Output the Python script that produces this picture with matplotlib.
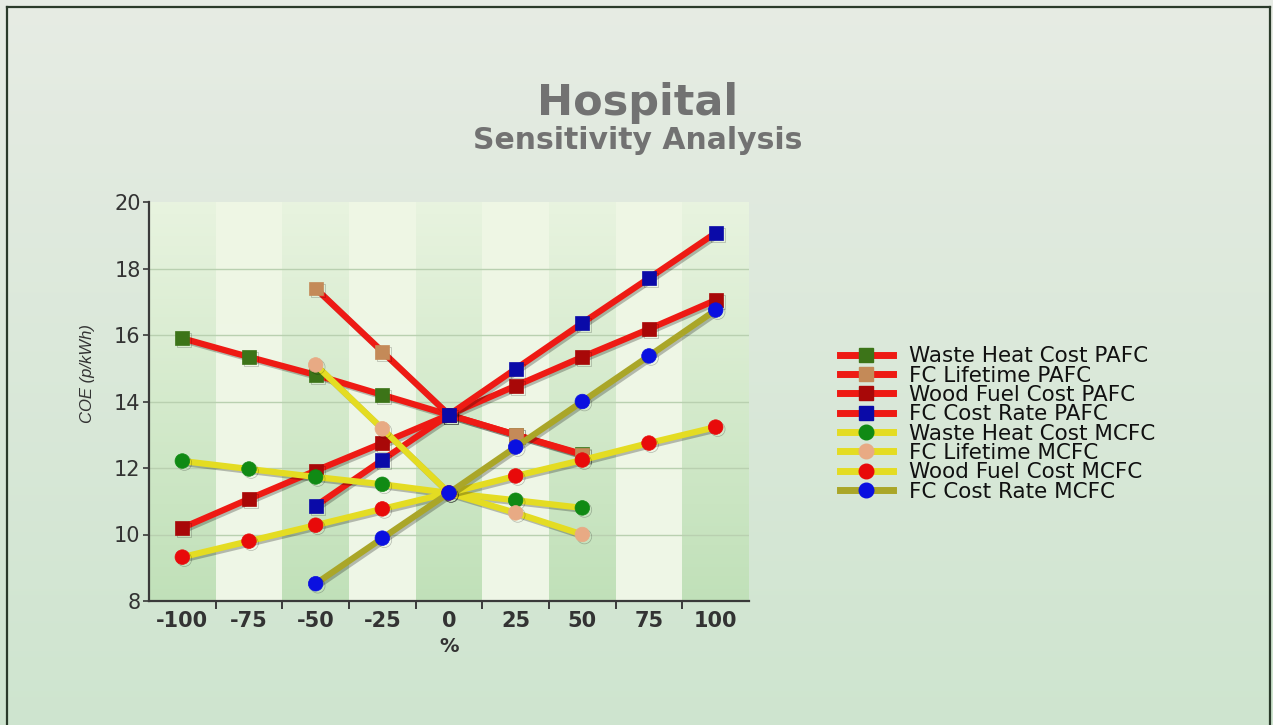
import numpy as np
import matplotlib
matplotlib.use("Agg")
import matplotlib.pyplot as plt
from matplotlib.lines import Line2D
import matplotlib.patheffects as pe

# ---------------- data ----------------
categories = [-100, -75, -50, -25, 0, 25, 50, 75, 100]
nan = np.nan

waste_heat_pafc = [15.9, 15.34, 14.8, 14.2, 13.6, 13.0, 12.42, nan, nan]
fc_lifetime_pafc = [nan, nan, 17.4, 15.5, 13.6, 13.0, 12.4, nan, nan]
wood_fuel_pafc = [10.2, 11.07, 11.92, 12.75, 13.6, 14.47, 15.34, 16.18, 17.05]
fc_cost_rate_pafc = [nan, nan, 10.86, 12.24, 13.6, 14.98, 16.36, 17.71, 19.07]

waste_heat_mcfc = [12.21, 11.97, 11.73, 11.51, 11.25, 11.03, 10.8, nan, nan]
fc_lifetime_mcfc = [nan, nan, 15.1, 13.18, 11.25, 10.65, 10.0, nan, nan]
wood_fuel_mcfc = [9.32, 9.8, 10.28, 10.77, 11.25, 11.76, 12.24, 12.75, 13.23]
fc_cost_rate_mcfc = [nan, nan, 8.52, 9.89, 11.25, 12.63, 14.0, 15.37, 16.75]

series_names = ["Waste Heat Cost PAFC", "FC Lifetime PAFC", "Wood Fuel Cost PAFC",
                "FC Cost Rate PAFC", "Waste Heat Cost MCFC", "FC Lifetime MCFC",
                "Wood Fuel Cost MCFC", "FC Cost Rate MCFC"]
series_values = [waste_heat_pafc, fc_lifetime_pafc, wood_fuel_pafc, fc_cost_rate_pafc,
                 waste_heat_mcfc, fc_lifetime_mcfc, wood_fuel_mcfc, fc_cost_rate_mcfc]
line_colors = ["#ee1a14", "#ee1a14", "#ee1a14", "#ee1a14",
               "#e4dc22", "#e4dc22", "#e4dc22", "#aaa628"]
marker_colors = ["#3c7418", "#c48a58", "#a80808", "#0a0aa8",
                 "#108a14", "#e8aa84", "#e80a0a", "#0a10e0"]
marker_shapes = ["s", "s", "s", "s", "o", "o", "o", "o"]

yticks = [8, 10, 12, 14, 16, 18, 20]
title = "Hospital"
subtitle = "Sensitivity Analysis"
ylabel = "COE (p/kWh)"
xlabel = "%"

# ---------------- figure ----------------
W, H = 1273, 725
fig = plt.figure(figsize=(W / 100, H / 100), dpi=100)

# background gradient
bg = fig.add_axes([0, 0, 1, 1], zorder=-10)
grad = np.linspace(0, 1, 256)[:, None]
c_top = np.array([0.905, 0.925, 0.895])
c_bot = np.array([0.81, 0.897, 0.812])
img = c_top[None, None, :] * (1 - grad[:, :, None]) + c_bot[None, None, :] * grad[:, :, None]
bg.imshow(img, aspect="auto", extent=(0, 1, 0, 1), origin="upper")
bg.set_xlim(0, 1)
bg.set_ylim(0, 1)
bg.axis("off")

# border lines
for xs, ys in [((7 / W, 1270 / W), (1 - 7 / H, 1 - 7 / H)),
               ((7 / W, 7 / W), (0, 1 - 7 / H)),
               ((1270 / W, 1270 / W), (0, 1 - 7 / H))]:
    fig.add_artist(Line2D(xs, ys, color="#2a3a2a", lw=1.6, transform=fig.transFigure))

ax = fig.add_axes([149 / W, 1 - 601 / H, 600 / W, 399 / H])
ax.set_facecolor("none")

xmin, xmax = -112.5, 112.5
ymin, ymax = 8, 20

# column shading
vgrad = np.linspace(0, 1, 128)[:, None]
dark_top = np.array([0.91, 0.955, 0.875])
dark_bot = np.array([0.755, 0.88, 0.725])
light_top = np.array([0.935, 0.965, 0.895])
light_bot = np.array([0.935, 0.968, 0.905])
for i, c in enumerate(categories):
    if i % 2 == 0:
        t, b = dark_top, dark_bot
    else:
        t, b = light_top, light_bot
    col = t[None, None, :] * (1 - vgrad[:, :, None]) + b[None, None, :] * vgrad[:, :, None]
    ax.imshow(col, aspect="auto", extent=(c - 12.5, c + 12.5, ymin, ymax),
              origin="upper", zorder=0)

# grid
for y in yticks[1:-1]:
    ax.axhline(y, color="#b9d0b0", lw=1.0, zorder=1)

x = np.array(categories, dtype=float)
handles = []
for name, vals, lc, mc, ms in zip(series_names, series_values, line_colors,
                                  marker_colors, marker_shapes):
    v = np.array(vals, dtype=float)
    m = ~np.isnan(v)
    size = 10 if ms == "s" else 10.5
    ax.plot(x[m], v[m], color=lc, lw=4.5, marker=ms, markersize=size,
            markerfacecolor=mc, markeredgecolor=mc, markeredgewidth=0.5,
            zorder=3, solid_capstyle="butt",
            path_effects=[pe.SimpleLineShadow(offset=(1.5, -1.5), alpha=0.25),
                          pe.Normal()])
    handles.append(Line2D([0], [0], color=lc, lw=5, marker=ms, markersize=size,
                          markerfacecolor=mc, markeredgecolor=mc, label=name))

ax.set_xlim(xmin, xmax)
ax.set_ylim(ymin, ymax)

# spines
for s in ["top", "right"]:
    ax.spines[s].set_visible(False)
for s in ["left", "bottom"]:
    ax.spines[s].set_color("#3a3a3a")
    ax.spines[s].set_linewidth(1.6)
    ax.spines[s].set_zorder(5)

ax.set_xticks(categories)
ax.set_xticklabels([str(c) for c in categories], fontsize=15, fontweight="bold",
                   color="#333333", family="DejaVu Sans")
ax.tick_params(axis="x", which="major", length=0, pad=7)
ax.set_xticks(np.arange(xmin + 25, xmax, 25), minor=True)
ax.tick_params(axis="x", which="minor", length=6, width=1.4, color="#3a3a3a",
               direction="out")

ax.set_yticks(yticks)
ax.set_yticklabels([str(v) for v in yticks], fontsize=15, color="#333333",
                   family="DejaVu Sans")
ax.tick_params(axis="y", length=4, width=1.2, color="#3a3a3a", pad=2)

fig.text(88 / W, 1 - 374 / H, ylabel, rotation=90, fontsize=12, style="italic",
         family="Liberation Sans", color="#333333", ha="center", va="center")
fig.text(449 / W, 1 - 652 / H, xlabel, fontsize=14, fontweight="bold",
         color="#333333", ha="center", va="baseline", family="DejaVu Sans")

fig.text(638 / W, 1 - 115 / H, title, fontsize=31, fontweight="bold",
         color="#727272", ha="center", va="baseline", family="DejaVu Sans")
fig.text(638 / W, 1 - 149 / H, subtitle, fontsize=21.5, fontweight="bold",
         color="#727272", ha="center", va="baseline", family="DejaVu Sans")

leg = fig.legend(handles=handles, loc="center left",
                 bbox_to_anchor=(840 / W, 1 - 424 / H), frameon=False,
                 prop={"family": "DejaVu Sans", "size": 15.5},
                 handlelength=2.45, handletextpad=0.75, labelspacing=-0.03,
                 borderpad=0, borderaxespad=0)
for t in leg.get_texts():
    t.set_color("#111111")

fig.savefig("out.png", dpi=100)
